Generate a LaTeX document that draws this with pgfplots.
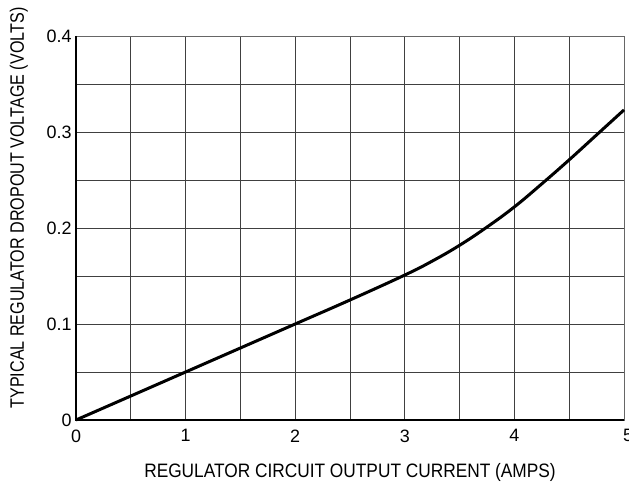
\documentclass[border=0pt]{standalone}
\usepackage{pgfplots}
\pgfplotsset{compat=1.18}
\usepackage{fontspec}
\setmainfont{Liberation Sans}
\begin{document}
\begin{tikzpicture}[x=1bp,y=1bp]
\begin{axis}[
  at={(76bp,64bp)}, anchor=south west,
  scale only axis, width=548bp, height=384bp,
  xmin=0, xmax=5, ymin=0, ymax=0.4,
  xtick={0,1,2,3,4,5}, ytick={0,0.1,0.2,0.3,0.4},
  yticklabels={0,0.1,0.2,0.3,0.4},
  xticklabels={0,1,2,3,4,\hspace{8bp}5},
  /pgf/number format/assume math mode=true,
  minor xtick={0.5,1.5,2.5,3.5,4.5},
  minor ytick={0.05,0.15,0.25,0.35},
  grid=both,
  major grid style={draw=black!75, line width=0.9pt},
  minor grid style={draw=black!75, line width=0.9pt},
  major tick length=0pt, minor tick length=0pt,
  axis line style={draw=black!60, line width=0.8pt},
  tick label style={font=\fontsize{18}{21}\selectfont},
  xticklabel style={yshift=-6bp},
  yticklabel style={xshift=-1bp},
  xlabel={\scalebox{0.89}[1]{REGULATOR CIRCUIT OUTPUT CURRENT (AMPS)}},
  ylabel={\scalebox{0.83}[1]{TYPICAL REGULATOR DROPOUT VOLTAGE (VOLTS)}},
  label style={font=\fontsize{19.5}{23}\selectfont},
  xlabel style={at={(axis description cs:0.5,-0.151)}, anchor=base},
  ylabel style={at={(axis description cs:-0.0949,0.552)}, anchor=base, rotate=0},
  clip=false,
]
\addplot[black, line width=3bp, smooth, tension=0.7] coordinates {
 (0,0) (0.5,0.025) (1,0.05) (1.5,0.075) (2,0.1) (2.5,0.125) (3,0.151)
 (3.25,0.1655) (3.5,0.182) (3.75,0.201) (4,0.222) (4.25,0.246)
 (4.5,0.271) (4.75,0.297) (5,0.323)};
\draw[black, line width=2bp] (rel axis cs:0,1) -- (rel axis cs:0,0) -- (rel axis cs:1,0);
\end{axis}
\pgfresetboundingbox
\useasboundingbox (0,0) rectangle (629,484);
\end{tikzpicture}
\end{document}
